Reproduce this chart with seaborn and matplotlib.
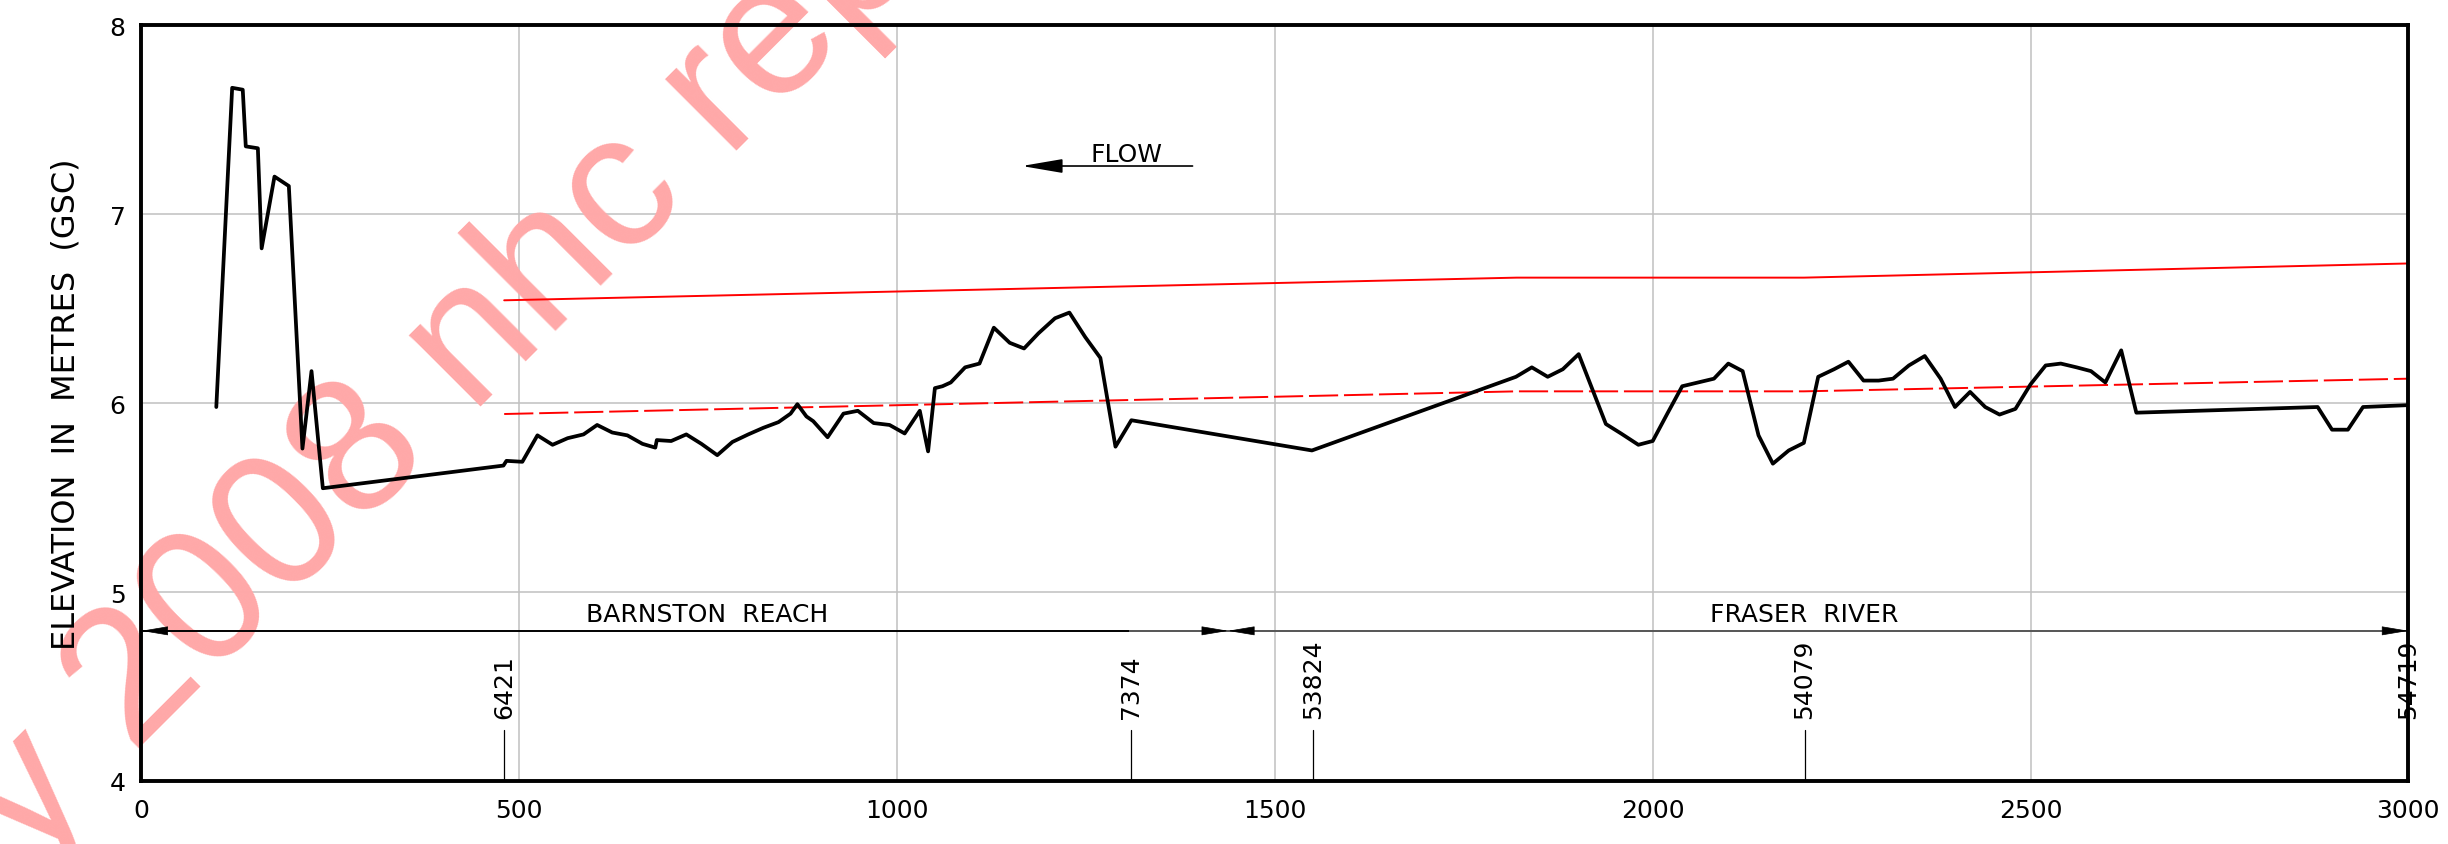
import matplotlib
matplotlib.use("Agg")
import matplotlib.pyplot as plt
import seaborn as sns
import pandas as pd

# Channel bed profile: distance along the channel (m) and bed elevation (m GSC)
profile_dist = [99, 120, 134, 138, 154, 159, 176, 195, 213, 225, 240,
                479, 483, 504, 524, 544, 564, 585, 603, 623, 643, 663, 680, 682,
                701, 721, 741, 762, 782, 803, 823, 843, 859, 868, 880, 889, 908,
                929, 948, 969, 990, 1010, 1030, 1041, 1050, 1060, 1071, 1090,
                1109, 1128, 1149, 1168, 1187, 1209, 1228, 1249, 1269, 1289, 1310,
                1549, 1819, 1840, 1861, 1881, 1902, 1938, 1958, 1981, 2000, 2020,
                2039, 2060, 2081, 2100, 2119, 2140, 2159, 2180, 2200, 2219, 2240,
                2259, 2279, 2299, 2318, 2339, 2360, 2381, 2400, 2420, 2440, 2459,
                2480, 2500, 2520, 2540, 2561, 2580, 2599, 2620, 2640, 2880, 2899,
                2920, 2940, 3000]
profile_elev = [5.98, 7.67, 7.66, 7.36, 7.35, 6.82, 7.20, 7.15, 5.76, 6.17, 5.55,
                5.67, 5.695, 5.69, 5.83, 5.78, 5.815, 5.835, 5.885, 5.845, 5.83, 5.785, 5.765, 5.805,
                5.80, 5.835, 5.785, 5.725, 5.795, 5.835, 5.87, 5.90, 5.945, 5.995, 5.93, 5.905, 5.82,
                5.945, 5.96, 5.895, 5.885, 5.84, 5.96, 5.745, 6.08, 6.09, 6.11, 6.19,
                6.21, 6.40, 6.32, 6.29, 6.37, 6.45, 6.48, 6.35, 6.24, 5.77, 5.91,
                5.75, 6.14, 6.19, 6.14, 6.18, 6.26, 5.89, 5.84, 5.78, 5.80, 5.95,
                6.09, 6.11, 6.13, 6.21, 6.17, 5.83, 5.68, 5.75, 5.79, 6.14, 6.18,
                6.22, 6.12, 6.12, 6.13, 6.20, 6.25, 6.13, 5.98, 6.06, 5.98, 5.94,
                5.97, 6.10, 6.20, 6.21, 6.19, 6.17, 6.11, 6.28, 5.95, 5.98, 5.86,
                5.86, 5.98, 5.99]

# Water surface profiles (m GSC)
wsl_dist = [480, 1820, 2200, 3000]
wsl_upper = [6.545, 6.665, 6.665, 6.74]
wsl_lower = [5.943, 6.063, 6.063, 6.13]

# Cross-section stations marked along the bottom of the profile
station_dist = [480, 1310, 1550, 2201, 3000]
station_ids = ["6421", "7374", "53824", "54079", "54719"]

# Reaches shown by dimension arrows
reach_names = ["BARNSTON  REACH", "FRASER  RIVER"]
reach_start = [0, 1438]
reach_end = [1438, 3000]
reach_label_x = [748, 2201]

x_ticks = [0, 500, 1000, 1500, 2000, 2500, 3000]
y_ticks = [4, 5, 6, 7, 8]

sns.set_theme(style="white")
plt.rcParams["font.family"] = ["DejaVu Sans"]
plt.rcParams["axes.axisbelow"] = True

fig = plt.figure(figsize=(24.48, 8.45), dpi=100)
ax = fig.add_axes([0.0578, 0.07456, 0.9260, 0.8941])

bed = pd.DataFrame({"distance": profile_dist, "elevation": profile_elev})
wsl = pd.DataFrame({"distance": wsl_dist, "upper": wsl_upper, "lower": wsl_lower})

sns.lineplot(data=bed, x="distance", y="elevation", sort=False, estimator=None,
             color="black", linewidth=2.7, ax=ax, zorder=2.2)
sns.lineplot(data=wsl, x="distance", y="upper", sort=False, estimator=None,
             color="#ff0000", linewidth=1.4, ax=ax, zorder=2.1)
sns.lineplot(data=wsl, x="distance", y="lower", sort=False, estimator=None,
             color="#ff0000", linewidth=1.4, ax=ax, zorder=2.1)
ax.lines[-1].set_dashes((15, 3))

ax.set_xlim(0, 3000)
ax.set_ylim(4, 8)
ax.set_xticks(x_ticks)
ax.set_yticks(y_ticks)
ax.grid(True, color="#c0c0c0", linewidth=1.1)
for sp in ax.spines.values():
    sp.set_visible(True)
    sp.set_color("black")
    sp.set_linewidth(2.8)
ax.tick_params(axis="both", direction="out", length=7, width=2.2,
               labelsize=18, colors="black")
ax.tick_params(axis="y", pad=4.5)
ax.tick_params(axis="x", pad=5)
ax.set_xlabel("")
ax.set_ylabel("")

# Axis title
ax.text(-0.0331, 0.5, "ELEVATION  IN  METRES  (GSC)", transform=ax.transAxes,
        rotation=90, ha="center", va="center", fontsize=23, color="black",
        zorder=3)

# Flow direction arrow
ax.annotate("", xy=(1165, 7.256), xytext=(1391, 7.256),
            arrowprops=dict(arrowstyle="-|>,head_length=2.52,head_width=0.43",
                            color="black", lw=1.2, shrinkA=0, shrinkB=0,
                            mutation_scale=10), zorder=3)
ax.text(1303, 7.283, "FLOW", ha="center", va="baseline", fontsize=18,
        color="black")

# Reach dimension lines
y_dim = 4.795
ax.plot([reach_start[0], 1307], [y_dim, y_dim], color="black", lw=1.4,
        zorder=2.3, solid_capstyle="butt")
ax.plot([1307, reach_end[1]], [y_dim, y_dim], color="#555555", lw=1.4,
        zorder=2.3, solid_capstyle="butt")
head = "-|>,head_length=1.73,head_width=0.29"
for a, b in zip(reach_start, reach_end):
    for tip, tail in ((a, a + 31), (b, b - 31)):
        ax.annotate("", xy=(tip, y_dim), xytext=(tail, y_dim),
                    arrowprops=dict(arrowstyle=head, color="black", lw=0.5,
                                    shrinkA=0, shrinkB=0, mutation_scale=10),
                    zorder=3, annotation_clip=False)
for name, xc in zip(reach_names, reach_label_x):
    ax.text(xc, 4.848, name, ha="center", va="baseline", fontsize=18,
            color="black")

# Station markers
for sx, sid in zip(station_dist, station_ids):
    ax.plot([sx, sx], [4.0, 4.272], color="black", lw=0.9, zorder=2.3,
            clip_on=False)
    ax.text(sx, 4.334, sid, rotation=90, ha="center", va="bottom",
            fontsize=18, color="black", zorder=3)

# Report watermark
wm = dict(transform=fig.transFigure, rotation=45, rotation_mode="anchor",
          va="baseline", fontsize=138, color="#ffa8a8",
          family=["Liberation Sans", "DejaVu Sans"], zorder=1.2, clip_on=False)
ax.text(0.05441, 0.10698, "2008 nhc report", ha="left", **wm)
ax.text(0.03897, 0.06225, "Copy", ha="right", **wm)

fig.savefig("out.png", dpi=100)
